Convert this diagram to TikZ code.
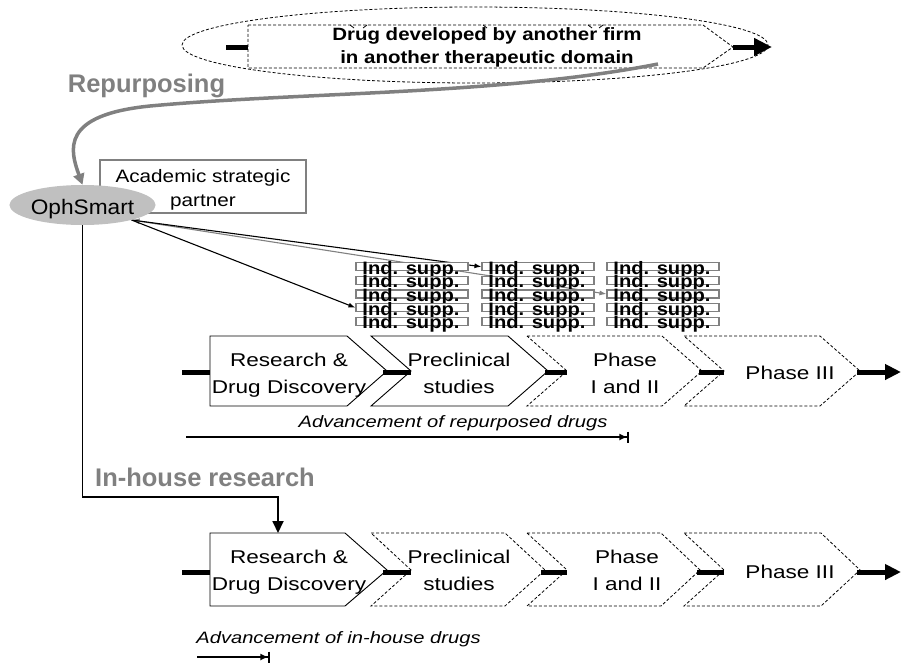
\documentclass[tikz,border=0pt]{standalone}
\usepackage{fontspec}
\setmainfont{Liberation Sans}
\newfontfamily\fsA{Liberation Sans}[FakeStretch=1.08]
\newfontfamily\fsB{Liberation Sans}[FakeStretch=1.15]
\newfontfamily\fsC{Liberation Sans}[FakeStretch=1.22]
\newfontfamily\fsD{Liberation Sans}[FakeStretch=1.12]
\usetikzlibrary{arrows.meta,shapes.geometric}
\definecolor{midgray}{HTML}{808080}
\definecolor{ophgray}{HTML}{C0C0C0}
\pgfdeclarelayer{bg}
\pgfsetlayers{bg,main}
\begin{document}
\begin{tikzpicture}[x=1pt,y=-1pt,
  chevsolid/.style={draw=black, line width=0.9pt, fill=white, line join=miter},
  chevdash/.style={draw=black, line width=0.8pt, dash pattern=on 3pt off 2pt, fill=white},
  flowbar/.style={line width=5pt},
  flowarrow/.style={line width=5pt, -{Triangle[length=16pt,width=15pt]}},
  bigarrow/.style={line width=5pt, -{Triangle[length=18pt,width=17pt]}},
  chevtext/.style={font=\fsC\fontsize{18.5}{26.7}\selectfont, align=center, inner sep=0pt},
  chevtextb/.style={font=\fsC\fontsize{18.5}{26.7}\selectfont, inner sep=0pt, anchor=base},
  indbox/.style={draw=midgray, line width=1.1pt, fill=white, minimum width=112pt, minimum height=8pt, inner sep=0pt},
  indtext/.style={font=\fsD\bfseries\fontsize{18}{18}\selectfont, inner sep=0pt, anchor=base},
  graylabel/.style={font=\bfseries\fontsize{25.5}{25.5}\selectfont, text=midgray, inner sep=0pt, anchor=base},
  advtext/.style={font=\fsC\itshape\fontsize{16.5}{16.5}\selectfont, inner sep=0pt, anchor=base},
  advarrow/.style={line width=1.6pt, -{Latex[length=8pt,width=7pt]Bar[width=11pt,line width=1.6pt]}},
  blacklink/.style={line width=1.1pt, -{Latex[length=7pt,width=5pt]}},
  graylink/.style={draw=midgray, line width=1.1pt, {Latex[length=8pt,width=6pt]}-{Latex[length=7pt,width=5pt]}},
  ihlink/.style={line width=1.8pt, -{Triangle[length=12pt,width=11pt]}},
  repcurve/.style={draw=midgray, line width=3.5pt, -{Triangle[length=11pt,width=11pt]}}
]
\useasboundingbox (0,0) rectangle (901,662);

% ---------- top: drug of another firm ----------
\draw[dash pattern=on 3pt off 2pt, line width=0.8pt] (475,45) ellipse [x radius=293, y radius=38];
\draw[chevdash] (248,25) -- (703,25) -- (733,47) -- (703,68) -- (248,68) -- cycle;
\draw[line width=0.8pt] (350,25) -- (354,28) (367,25) -- (363,28) (483,25) -- (487,28) (588,25) -- (592,28) (603,25) -- (599,28);
\coordinate (topL) at (226,47);
\coordinate (topA) at (248,47);
\coordinate (topB) at (733,47);
\coordinate (topE) at (772,47);
\draw[flowbar] (topL) -- (topA);
\draw[bigarrow] (topB) -- (topE);
\node[font=\fsB\bfseries\fontsize{17.8}{23}\selectfont, align=center, inner sep=0pt] (drug) at (487,47.5)
  {Drug developed by another firm\\in another therapeutic domain};

\node[graylabel] (repl) at (146.5,92) {Repurposing};

% ---------- OphSmart and partner ----------
\node[draw=midgray, line width=2.5pt, fill=white, minimum width=206pt, minimum height=53pt, inner sep=0pt] (acad) at (203,186.5) {};
\node[font=\fsB\fontsize{18}{24}\selectfont, align=center, inner sep=0pt] (acadt) at (203,190) {Academic strategic\\partner};
\node[ellipse, fill=ophgray, minimum width=145pt, minimum height=40pt, inner sep=0pt,
      font=\fsA\fontsize{21}{21}\selectfont, text height=18pt, text depth=0pt] (oph) at (82.5,205) {OphSmart};

\coordinate (repstart) at (658,64);
\draw[repcurve] (repstart) .. controls (500,95) and (300,92) .. (150,106) .. controls (60,115) and (70,150) .. (oph.north);

% ---------- Ind. supp. columns ----------
\foreach \c/\x in {1/412,2/538,3/663}{
  \foreach \r/\y in {1/266.7,2/280.3,3/294,4/307.7,5/321.3}{
    \node[indbox] (s\c\r) at (\x,\y) {};
    \node[indtext] (t\c\r) at (\x-1,\y+7.5) {Ind. supp.};
  }
}

\begin{pgfonlayer}{bg}
\draw[graylink] (oph.-17) -- (s33.west);
\draw[blacklink] (oph.-17) -- (s21.west);
\draw[blacklink] (oph.-17) -- (s14.west);
\end{pgfonlayer}

% ---------- repurposed row ----------
\draw[chevsolid] (210,336) -- (347,336) -- (387,371) -- (347,406) -- (210,406) -- cycle;
\draw[chevsolid] (371,336) -- (508,336) -- (548,371) -- (508,406) -- (371,406) -- (411,371) -- cycle;
\draw[chevdash] (527,336) -- (662,336) -- (702,371) -- (662,406) -- (527,406) -- (567,371) -- cycle;
\draw[chevdash] (684,336) -- (820,336) -- (860,371) -- (820,406) -- (684,406) -- (724,371) -- cycle;
\node[chevtext] (r1) at (289,375.3) {Research \&\\Drug Discovery};
\node[chevtext] (r2) at (459,373.3) {Preclinical\\studies};
\node[chevtext] (r3) at (625,373.3) {Phase\\I and II};
\node[chevtextb] (r4) at (790,379.5) {Phase III};
\coordinate (ra0) at (182,372);
\coordinate (ra1) at (210,372);
\coordinate (rb1) at (383,372);
\coordinate (rb2) at (411,372);
\coordinate (rc1) at (545,372);
\coordinate (rc2) at (567,372);
\coordinate (rd1) at (699,372);
\coordinate (rd2) at (724,372);
\coordinate (re1) at (857,372);
\coordinate (re2) at (901,372);
\draw[flowbar] (ra0) -- (ra1);
\draw[flowbar] (rb1) -- (rb2);
\draw[flowbar] (rc1) -- (rc2);
\draw[flowbar] (rd1) -- (rd2);
\draw[flowarrow] (re1) -- (re2);

\node[advtext] (adv1) at (453,427) {Advancement of repurposed drugs};
\coordinate (av1s) at (186,437);
\coordinate (av1e) at (629,437);
\draw[advarrow] (av1s) -- (av1e);

% ---------- in-house row ----------
\node[graylabel] (inl) at (205,486) {In-house research};
\draw[chevsolid] (210,533) -- (345,533) -- (387,570) -- (345,606) -- (210,606) -- cycle;
\draw[chevdash] (371,533) -- (505,533) -- (545,570) -- (505,606) -- (371,606) -- (411,570) -- cycle;
\draw[chevdash] (527,533) -- (661,533) -- (700,570) -- (661,606) -- (527,606) -- (567,570) -- cycle;
\draw[chevdash] (684,533) -- (821,533) -- (860,570) -- (821,606) -- (684,606) -- (724,570) -- cycle;
\node[chevtext] (i1) at (289,572.3) {Research \&\\Drug Discovery};
\node[chevtext] (i2) at (459,570.3) {Preclinical\\studies};
\node[chevtext] (i3) at (627,570.3) {Phase\\I and II};
\node[chevtextb] (i4) at (790,578) {Phase III};
\coordinate (ia0) at (182,572);
\coordinate (ia1) at (210,572);
\coordinate (ib1) at (383,572);
\coordinate (ib2) at (411,572);
\coordinate (ic1) at (541,572);
\coordinate (ic2) at (567,572);
\coordinate (id1) at (697,572);
\coordinate (id2) at (724,572);
\coordinate (ie1) at (857,572);
\coordinate (ie2) at (901,572);
\draw[flowbar] (ia0) -- (ia1);
\draw[flowbar] (ib1) -- (ib2);
\draw[flowbar] (ic1) -- (ic2);
\draw[flowbar] (id1) -- (id2);
\draw[flowarrow] (ie1) -- (ie2);

\coordinate (ihturn) at (150,497);
\coordinate (b1top) at (278,533);
\draw[ihlink] (oph.south) |- (ihturn) -| (b1top);

\node[advtext] (adv2) at (338.5,643) {Advancement of in-house drugs};
\coordinate (av2s) at (197,657);
\coordinate (av2e) at (270,657);
\draw[advarrow] (av2s) -- (av2e);
\end{tikzpicture}
\end{document}
